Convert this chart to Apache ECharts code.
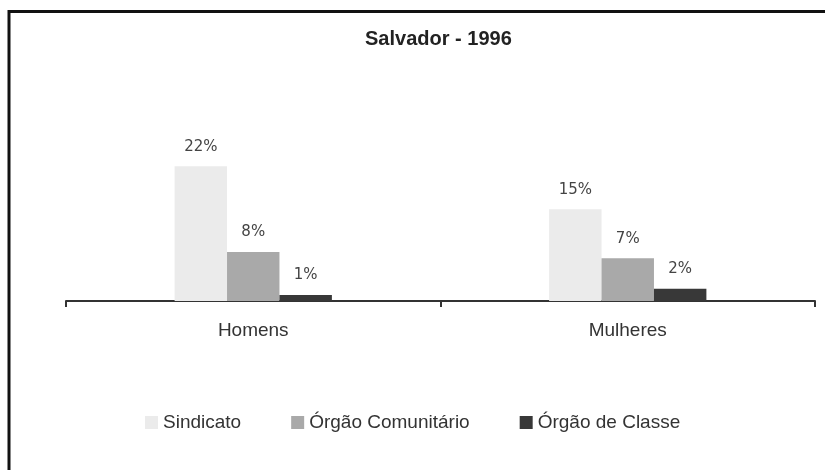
<!DOCTYPE html>
<html>
<head>
<meta charset="utf-8">
<script src="https://cdn.jsdelivr.net/npm/echarts@6/dist/echarts.min.js"></script>
<style>
  html, body { margin: 0; padding: 0; background: #fff; }
  #chart { width: 825px; height: 470px; }
</style>
</head>
<body>
<div id="chart"></div>
<script>
// dados
const categorias = ['Homens', 'Mulheres'];
const nomesSeries = ['Sindicato', 'Órgão Comunitário', 'Órgão de Classe'];
const sindicato = [22, 15];
const orgaoComunitario = [8, 7];
const orgaoClasse = [1, 2];
const cores = ['#ebebeb', '#a9a9a9', '#383838'];

const chart = echarts.init(document.getElementById('chart'));

function serie(nome, dados, i) {
  return {
    name: nome,
    type: 'bar',
    data: dados,
    barGap: '0%',
    barCategoryGap: '58%',
    itemStyle: { color: cores[i] },
    label: {
      show: true,
      position: 'top',
      distance: 12,
      formatter: '{c}%',
      color: '#444',
      fontFamily: 'DejaVu Sans',
      fontSize: 15,
    },
  };
}

chart.setOption({
  backgroundColor: '#fff',
  animation: false,
  title: {
    text: 'Salvador - 1996',
    left: 360,
    top: 24,
    textStyle: { fontFamily: 'Liberation Sans', fontWeight: 'bold', fontSize: 20, color: '#222' },
  },
  legend: {
    data: nomesSeries,
    left: 140,
    top: 408,
    itemWidth: 13,
    itemHeight: 13,
    itemGap: 50,
    icon: 'rect',
    textStyle: { fontFamily: 'Liberation Sans', fontSize: 19, color: '#333' },
  },
  grid: { left: 66, right: 10, top: 148, bottom: 169, containLabel: false },
  xAxis: {
    type: 'category',
    data: categorias,
    axisLine: { lineStyle: { color: '#333', width: 2 } },
    axisTick: { show: true, length: 6, lineStyle: { color: '#333', width: 2 } },
    axisLabel: { margin: 20, fontFamily: 'Liberation Sans', fontSize: 19, color: '#333' },
  },
  yAxis: {
    type: 'value',
    min: 0,
    max: 25,
    show: false,
  },
  graphic: [
    { type: 'line', shape: { x1: 9, y1: 10, x2: 9, y2: 470 }, style: { stroke: '#111', lineWidth: 3 } },
    { type: 'line', shape: { x1: 8, y1: 11.5, x2: 825, y2: 11.5 }, style: { stroke: '#111', lineWidth: 3 } },
  ],
  series: [
    serie(nomesSeries[0], sindicato, 0),
    serie(nomesSeries[1], orgaoComunitario, 1),
    serie(nomesSeries[2], orgaoClasse, 2),
  ],
});
</script>
</body>
</html>
